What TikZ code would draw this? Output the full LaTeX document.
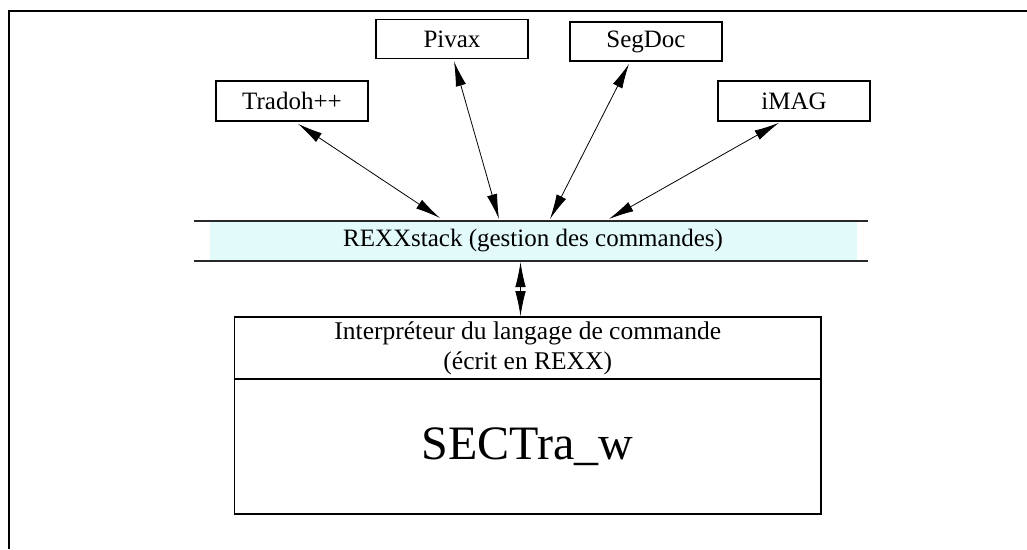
\documentclass[tikz,border=0pt]{standalone}
\usepackage{fontspec}
\setmainfont{Liberation Serif}
\usetikzlibrary{arrows.meta}
\definecolor{bandfill}{RGB}{226,250,250}
\definecolor{bandline}{RGB}{40,40,40}
\tikzset{
  progbox/.style={draw, line width=1.6pt, minimum width=152pt, minimum height=40pt, inner sep=0pt, font=\fontsize{25}{30}\selectfont},
  link/.style={line width=0.8pt, {Latex[length=25pt,width=10.5pt]}-{Latex[length=25pt,width=10.5pt]}},
  bigbox/.style={draw, line width=1.6pt, minimum width=586.5pt, inner sep=0pt, align=center},
  frame/.style={line width=2pt},
  bandrule/.style={line width=1.8pt, draw=bandline}
}
\begin{document}
\begin{tikzpicture}[x=1pt,y=-1pt]
\useasboundingbox (0,0) rectangle (1027,549);
% outer frame (left and top sides)
\draw[frame] (9,549) -- (9,11) -- (1027,11);
% program boxes
\node[progbox] (trad) at (292,101) {Tradoh++};
\node[progbox, minimum height=39pt] (pivax) at (452,39) {Pivax};
\node[progbox, minimum height=39pt] (segdoc) at (646,41.5) {SegDoc};
\node[progbox] (imag) at (794,101) {iMAG};
% REXXstack band
\node[fill=bandfill, minimum width=647pt, minimum height=39pt, inner sep=0pt,
      font=\fontsize{25}{30}\selectfont] (stack) at (533,241) {REXXstack (gestion des commandes)};
\coordinate (bl1) at (194,221);
\coordinate (br1) at (868,221);
\coordinate (bl2) at (194,261);
\coordinate (br2) at (868,261);
\draw[bandrule] (bl1) -- (br1);
\draw[bandrule] (bl2) -- (br2);
% interpreter / SECTra box
\node[bigbox, minimum height=62pt, font=\fontsize{25.5}{30}\selectfont] (interp) at (527.75,348)
  {Interpréteur du langage de commande\\(écrit en REXX)};
\node[bigbox, minimum height=135pt, font=\fontsize{48}{54}\selectfont] (sectra) at (527.75,446.5) {SECTra\_w};
% connector end points on the band
\coordinate (e1) at (440,218);
\coordinate (e2) at (499,219);
\coordinate (e3) at (550,219);
\coordinate (e4) at (609,219);
% connectors
\draw[link] ([xshift=6pt,yshift=-2pt]trad.south) -- (e1);
\draw[link] ([xshift=2pt,yshift=-2pt]pivax.south) -- (e2);
\draw[link] ([xshift=-17pt,yshift=-2pt]segdoc.south) -- (e3);
\draw[link] ([xshift=-15pt,yshift=-1pt]imag.south) -- (e4);
\draw[link] (520.5,262) -- (interp.north -| 520.5,0);
\end{tikzpicture}
\end{document}
